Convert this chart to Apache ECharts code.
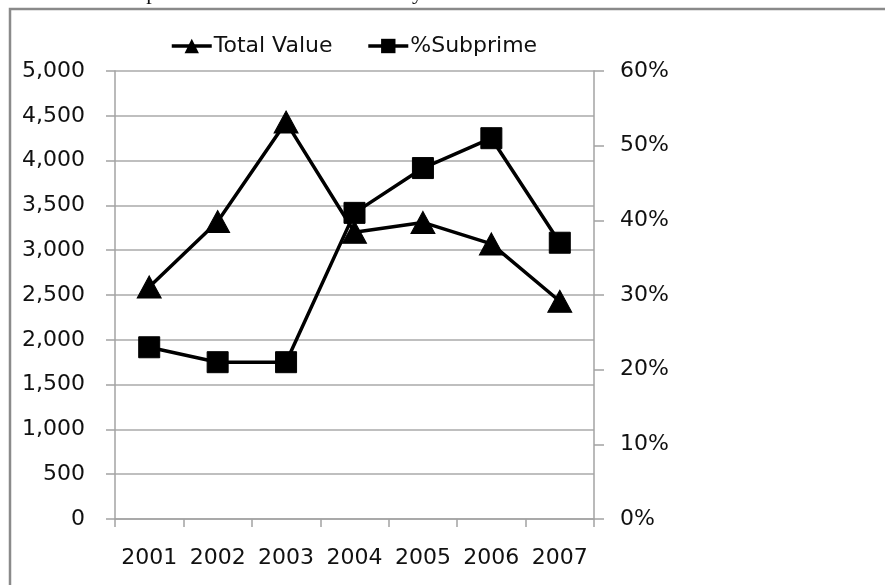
<!DOCTYPE html>
<html>
<head>
<meta charset="utf-8">
<script src="https://cdn.jsdelivr.net/npm/echarts@6/dist/echarts.min.js"></script>
<style>
  html, body { margin: 0; padding: 0; background: #fff; overflow: hidden; }
  #chart { width: 885px; height: 585px; }
</style>
</head>
<body>
<div id="chart"></div>
<script>
// Mortgage originations by year: total value (left axis) and subprime share (right axis)
var years = ['2001', '2002', '2003', '2004', '2005', '2006', '2007'];
var totalValue = [2590, 3320, 4430, 3200, 3310, 3070, 2430];
var pctSubprime = [0.23, 0.21, 0.21, 0.41, 0.47, 0.51, 0.37];
var valueTicks = { min: 0, max: 5000, step: 500 };
var pctTicks = { min: 0, max: 0.6, step: 0.1 };

var labelFont = 'DejaVu Sans';
var labelSize = 22;
var axisGrey = '#a3a3a3';

var chart = echarts.init(document.getElementById('chart'), null, { renderer: 'canvas' });

chart.setOption({
  backgroundColor: '#ffffff',
  animation: false,
  title: {
    text: 'Subprime Share of Home Loans by Year',
    left: 107,
    top: -23,
    textStyle: { fontFamily: 'Liberation Serif', fontSize: 22, fontWeight: 'normal', color: '#111' }
  },
  graphic: [{
    // outer chart frame: top and left edges run past the page
    type: 'polyline',
    shape: { points: [[10, 600], [10, 9], [900, 9]] },
    style: { fill: null, stroke: '#8a8a8a', lineWidth: 2.5 },
    silent: true,
    z: 10
  }],
  legend: {
    left: 165,
    top: 30,
    itemWidth: 40,
    itemHeight: 18,
    itemGap: 34,
    lineStyle: { width: 3.5, color: '#000' },
    textStyle: { fontFamily: labelFont, fontSize: labelSize, color: '#111', padding: [0, 0, 0, -3] },
    data: ['Total Value', '%Subprime']
  },
  grid: { left: 115, right: 291, top: 71, bottom: 66, containLabel: false },
  xAxis: {
    type: 'category',
    data: years,
    boundaryGap: true,
    axisLine: { show: true, lineStyle: { color: axisGrey, width: 1.5 } },
    axisTick: { show: true, interval: 0, length: 8, alignWithLabel: false, lineStyle: { color: axisGrey, width: 1.5 } },
    axisLabel: { interval: 0, margin: 28, fontFamily: labelFont, fontSize: labelSize, color: '#111' },
    splitLine: { show: false }
  },
  yAxis: [{
    type: 'value',
    position: 'left',
    min: valueTicks.min,
    max: valueTicks.max,
    interval: valueTicks.step,
    axisLine: { show: true, lineStyle: { color: axisGrey, width: 1.5 } },
    axisTick: { show: true, length: 9, lineStyle: { color: axisGrey, width: 1.5 } },
    axisLabel: {
      margin: 30,
      fontFamily: labelFont,
      fontSize: labelSize,
      color: '#111',
      formatter: function (v) { return v.toLocaleString('en-US'); }
    },
    splitLine: { show: true, lineStyle: { color: '#aaaaaa', width: 1.5 } }
  }, {
    type: 'value',
    position: 'right',
    min: pctTicks.min,
    max: pctTicks.max,
    interval: pctTicks.step,
    axisLine: { show: true, lineStyle: { color: axisGrey, width: 1.5 } },
    axisTick: { show: true, length: 10, lineStyle: { color: axisGrey, width: 1.5 } },
    axisLabel: {
      margin: 26,
      fontFamily: labelFont,
      fontSize: labelSize,
      color: '#111',
      formatter: function (v) { return Math.round(v * 100) + '%'; }
    },
    splitLine: { show: false }
  }],
  series: [{
    name: 'Total Value',
    type: 'line',
    yAxisIndex: 0,
    data: totalValue,
    symbol: 'triangle',
    symbolSize: [24, 22],
    showAllSymbol: true,
    lineStyle: { color: '#000', width: 3.5 },
    itemStyle: { color: '#000', borderColor: '#000' }
  }, {
    name: '%Subprime',
    type: 'line',
    yAxisIndex: 1,
    data: pctSubprime,
    symbol: 'rect',
    symbolSize: 21,
    showAllSymbol: true,
    lineStyle: { color: '#000', width: 3.5 },
    itemStyle: { color: '#000', borderColor: '#000' }
  }]
});
</script>
</body>
</html>
